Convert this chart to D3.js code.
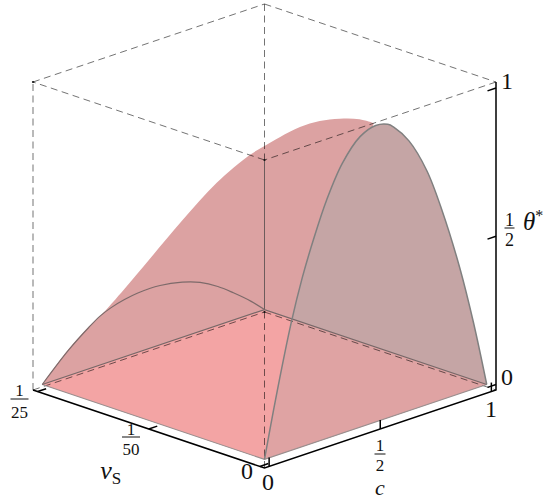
<!DOCTYPE html>
<html>
<head>
<meta charset="utf-8">
<script src="https://cdn.jsdelivr.net/npm/d3@7"></script>
<style>
html,body{margin:0;padding:0;background:#fff;}
svg{display:block;}
text{font-family:"Liberation Serif",serif;fill:#111;}
</style>
</head>
<body>
<div id="chart"></div>
<script>
// Edge of the surface at vS = 0
const frontC     = [0, .05, .12, .17, .22, .28, .35, .43, .5, .555, .58, .65, .73, .8, .88, .94, 1];
const frontTheta = [0, .19, .43, .57, .685, .805, .91, .98, 1, .99, .975, .91, .79, .635, .42, .225, 0];
// Edge of the surface at vS = 1/25
const backC      = [0, .12, .21, .26, .31, .37, .43, .53, .63, .71, .79, .86, .94, 1];
const backTheta  = [0, .087, .14, .165, .181, .193, .2, .2, .186, .165, .131, .092, .043, 0];
// Visible outline of the surface, from the far left corner to the top
const rimVS    = [.04, .037, .0346, .0331, .0301, .0271, .0231, .019, .015, .0132, .0113, .0089, .0065, .0041, .0017, 0];
const rimC     = [0, .04, .07, .087, .124, .161, .21, .26, .308, .33, .353, .382, .411, .441, .47, .492];
const rimTheta = [0, .125, .207, .251, .355, .464, .609, .747, .854, .89, .927, .968, .996, 1.012, 1.018, 1.01];

const cTicks = [0, .5, 1];
const vsTicks = [0, .02, .04];
const thetaTicks = [0, .5, 1];

const W = 550, H = 500;
const uScale = d3.scaleLinear().domain([0, 1]).range([.02, .98]);
const vScale = d3.scaleLinear().domain([0, .04]).range([.02, .98]);
const wScale = d3.scaleLinear().domain([0, 1]).range([5.5 / 308, 302 / 308]);

// box coordinates (0..1 on each side) to the page
const origin = [264.5, 468], uDir = [231.5, -78], vDir = [-231.5, -78], wDir = [0, -308];
const box = (u, v, w) => [
  origin[0] + u * uDir[0] + v * vDir[0] + w * wDir[0],
  origin[1] + u * uDir[1] + v * vDir[1] + w * wDir[1]
];
const P = (c, vs, t) => box(uScale(c), vScale(vs), wScale(t));

const svg = d3.select("#chart").append("svg").attr("width", W).attr("height", H).attr("viewBox", `0 0 ${W} ${H}`);
const curve = d3.line().curve(d3.curveCatmullRom.alpha(.5));
const straight = d3.line();

const frontPts = frontC.map((c, i) => P(c, 0, frontTheta[i]));
const backPts  = backC.map((c, i) => P(c, .04, backTheta[i]));
const rimPts   = rimC.map((c, i) => P(c, rimVS[i], rimTheta[i]));
const F = P(0, 0, 0), R = P(1, 0, 0), L = P(0, .04, 0), B = P(1, .04, 0);

const colSurface = "#dca2a2", colFloor = "#f3a4a4", colWall = "#c5a5a5", colWallFloor = "#dfa3a3";

svg.append("defs").append("clipPath").attr("id", "floorClip")
  .append("path").attr("d", straight([F, R, B, L]) + "Z");

// filled areas
svg.append("path").attr("d", curve(rimPts) + "L" + F.join(",") + "L" + L.join(",") + "Z").attr("fill", colSurface);
svg.append("path").attr("d", straight([F, R, B, L]) + "Z").attr("fill", colFloor);
const wallD = curve(frontPts) + "Z";
svg.append("path").attr("d", wallD).attr("fill", colWall);
svg.append("path").attr("d", wallD).attr("fill", colWallFloor).attr("clip-path", "url(#floorClip)");

// dashed box
const boxEdges = [
  [[0,1,1],[1,1,1]], [[1,1,1],[1,0,1]], [[1,0,1],[0,0,1]], [[0,0,1],[0,1,1]],
  [[0,1,0],[1,1,0]], [[1,1,0],[1,0,0]],
  [[0,1,0],[0,1,1]], [[1,1,1],[1,1,0]], [[0,0,0],[0,0,1]]
];
const dashed = svg.append("g").attr("fill", "none").attr("stroke", "#000").attr("stroke-opacity", .55)
  .attr("stroke-width", 1).attr("stroke-dasharray", "7,4.5");
dashed.selectAll("path").data(boxEdges).join("path")
  .attr("d", d => straight([box(...d[0]), box(...d[1])]));

// inner line on the far vertical edge
svg.append("path").attr("d", straight([box(0,0,1), B])).attr("stroke", "#6d5c5c").attr("stroke-width", 1).attr("fill", "none");

// surface edges
svg.append("path").attr("d", straight([L, F, R])).attr("fill", "none").attr("stroke", "#9a9090").attr("stroke-width", 1.1);
svg.append("path").attr("d", straight([L, B, R])).attr("fill", "none").attr("stroke", "#766868").attr("stroke-width", 1.2);
svg.append("path").attr("d", curve(backPts)).attr("fill", "none").attr("stroke", "#7d6a6a").attr("stroke-width", 1.2);
svg.append("path").attr("d", curve(frontPts)).attr("fill", "none").attr("stroke", "#808080").attr("stroke-width", 1.5);

// corner marks
svg.append("g").selectAll("circle").data([[0,1,1],[0,0,1],[1,1,0]]).join("circle")
  .attr("cx", d => box(...d)[0]).attr("cy", d => box(...d)[1]).attr("r", 1.1).attr("fill", "#111");

// axes
const axes = svg.append("g").attr("fill", "none").attr("stroke", "#000").attr("stroke-width", 1.5);
axes.append("path").attr("d", straight([box(0,1,0), box(0,0,0), box(1,0,0), box(1,0,1)]));
const tw = 9 / 308, tu = 8.5 / 231.5;
axes.selectAll(".tc").data(cTicks).join("path").attr("class", "tc")
  .attr("d", c => straight([box(uScale(c),0,0), box(uScale(c),0,tw)]));
axes.selectAll(".tv").data(vsTicks).join("path").attr("class", "tv")
  .attr("d", s => straight([box(0,vScale(s),0), box(tu,vScale(s),0)]));
axes.selectAll(".tt").data(thetaTicks).join("path").attr("class", "tt")
  .attr("d", t => straight([box(1,0,wScale(t)), box(1-tu,0,wScale(t))]));

// labels
function txt(x, y, s, size, style) {
  const t = svg.append("text").attr("x", x).attr("y", y).attr("font-size", size)
    .attr("text-anchor", "middle").attr("dominant-baseline", "alphabetic").text(s);
  if (style) t.attr("font-style", style);
  return t;
}
function frac(x, barY, num, den, halfW, size, up, down) {
  svg.append("line").attr("x1", x - halfW).attr("x2", x + halfW).attr("y1", barY).attr("y2", barY)
    .attr("stroke", "#111").attr("stroke-width", 1);
  txt(x, barY - up, num, size);
  txt(x, barY + down, den, size);
}
txt(247, 478.5, "0", 24);
txt(268, 490, "0", 24);
txt(491, 416.5, "1", 24);
txt(507, 384.5, "0", 24);
txt(507, 88.5, "1", 24);
frac(19.5, 399, "1", "25", 9, 17, 3, 19);
frac(131, 437, "1", "50", 9, 17, 2, 18);
frac(380, 454, "1", "2", 5.5, 17, 3.5, 17);
frac(509.5, 228, "1", "2", 5, 18, 2, 18);

txt(380, 494.5, "c", 22, "italic");
txt(106, 479, "ν", 26, "italic");
txt(116.5, 483.5, "S", 17);
svg.append("text").attr("x", 523).attr("y", 230).attr("font-size", 25).attr("font-style", "italic").text("θ")
  .append("tspan").attr("dy", -9).attr("font-size", 16).attr("font-style", "normal").text("*");
</script>
</body>
</html>
